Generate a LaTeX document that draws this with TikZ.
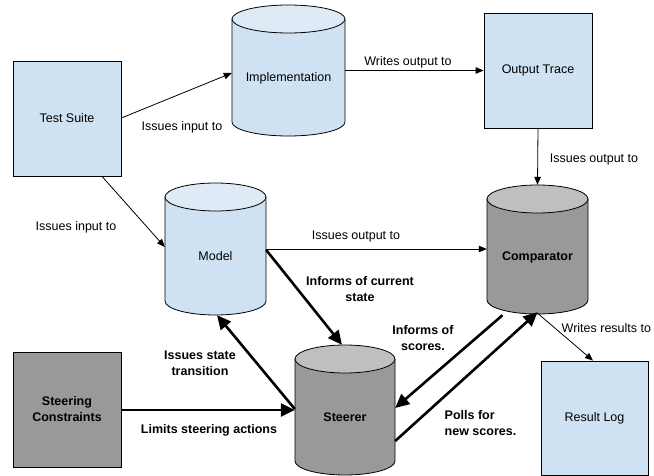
\documentclass[tikz,border=0pt]{standalone}
\usepackage{fontspec}
\setmainfont{Liberation Sans}
\usetikzlibrary{arrows.meta}
\definecolor{lb}{HTML}{CFE2F3}
\definecolor{lbtop}{HTML}{DEEBF7}
\definecolor{gb}{HTML}{999999}
\definecolor{gbtop}{HTML}{BFBFBF}
\newcommand\mycyl[9]{%
  \path[draw=black, line width=0.8pt, fill=#6] (#2-#5,#3+14) -- (#2-#5,#4-14)
    arc[start angle=180, end angle=0, x radius=#5, y radius=14] -- (#2+#5,#3+14) -- cycle;
  \path[draw=black, line width=0.8pt, fill=#7] (#2,#3+14) ellipse[x radius=#5, y radius=14];
  \node[inner sep=0pt, minimum width=2*#5, minimum height=#4-#3] (#1) at (#2,{(#3+#4)/2}) {};
  \node[lbl] (#1-t) at (#2,#8) {#9};
}
\begin{document}
\begin{tikzpicture}[x=1pt,y=-1pt,
  lbl/.style={font=\fontsize{12.5}{16}\selectfont, inner sep=0pt, align=center},
  blbl/.style={font=\fontsize{12.5}{16}\selectfont\bfseries, inner sep=0pt, align=center},
  box/.style={draw=black, line width=0.8pt, minimum width=108, minimum height=115, inner sep=0pt, align=center, font=\fontsize{12.5}{16}\selectfont},
  thin/.style={line width=0.8pt, -{Triangle[length=8pt,width=6.5pt]}},
  thick/.style={line width=2.6pt, -{Triangle[length=14pt,width=13pt]}}]
\useasboundingbox (0,0) rectangle (654,476);
% boxes
\node[box, fill=lb] (ts) at (67,118.5) {Test Suite};
\node[box, fill=lb] (ot) at (538,70.5) {Output Trace};
\node[box, fill=gb, font=\fontsize{12.5}{16}\selectfont\bfseries] (sc) at (67,409.5) {Steering\\Constraints};
\node[box, fill=lb, minimum width=107, minimum height=114] (rl) at (594.5,418) {Result Log};
% cylinders
\mycyl{impl}{288.5}{5}{136}{56.5}{lb}{lbtop}{78}{Implementation}
\mycyl{model}{215.5}{183}{315}{50.5}{lb}{lbtop}{256}{Model}
\mycyl{comp}{537.5}{185}{314}{50.5}{gb}{gbtop}{257}{\bfseries Comparator}
\mycyl{steer}{345}{345}{475}{50}{gb}{gbtop}{417}{\bfseries Steerer}
% connectors
\draw[thin] (ts.east |- 0,118) -- (impl.west |- 0,73);
\draw[thin] ([xshift=35pt]ts.south) -- (model.west |- 0,247);
\draw[thin] (impl.east |- 0,70.5) -- (ot.west |- 0,70.5);
\draw[thin] (ot.south) -- (comp.north);
\draw[thin] (model.east |- 0,249) -- (comp.west |- 0,249);
\draw[thick] (model.east |- 0,250) -- ([xshift=-3pt]steer.north);
\draw[thick] (steer.west |- 0,409) -- ([xshift=1.5pt]model.south);
\draw[thick] (sc.east |- 0,410) -- (steer.west |- 0,410);
\draw[thick] ([xshift=-35pt,yshift=-1pt]comp.south) -- (steer.east |- 0,408);
\draw[thick] (steer.east |- 0,441) -- ([yshift=2pt]comp.south);
\draw[thin] ([yshift=1pt]comp.south) -- ([xshift=-1.5pt]rl.north);
% labels
\node[lbl] (l1) at (182,127) {Issues input to};
\node[lbl] (l2) at (76,227) {Issues input to};
\node[lbl] (l3) at (408,62) {Writes output to};
\node[lbl] (l4) at (594,159) {Issues output to};
\node[lbl] (l5) at (356,236) {Issues output to};
\node[blbl] (l6) at (360,289) {Informs of current\\state};
\node[blbl] (l7) at (200,363) {Issues state\\transition};
\node[blbl] (l8) at (209,430) {Limits steering actions};
\node[blbl] (l9) at (423,338) {Informs of\\scores.};
\node[blbl, align=left, anchor=west] (l10) at (444.5,423.5) {Polls for\\new scores.};
\node[lbl, anchor=west] (l11) at (561.5,328) {Writes results to};
\end{tikzpicture}
\end{document}
